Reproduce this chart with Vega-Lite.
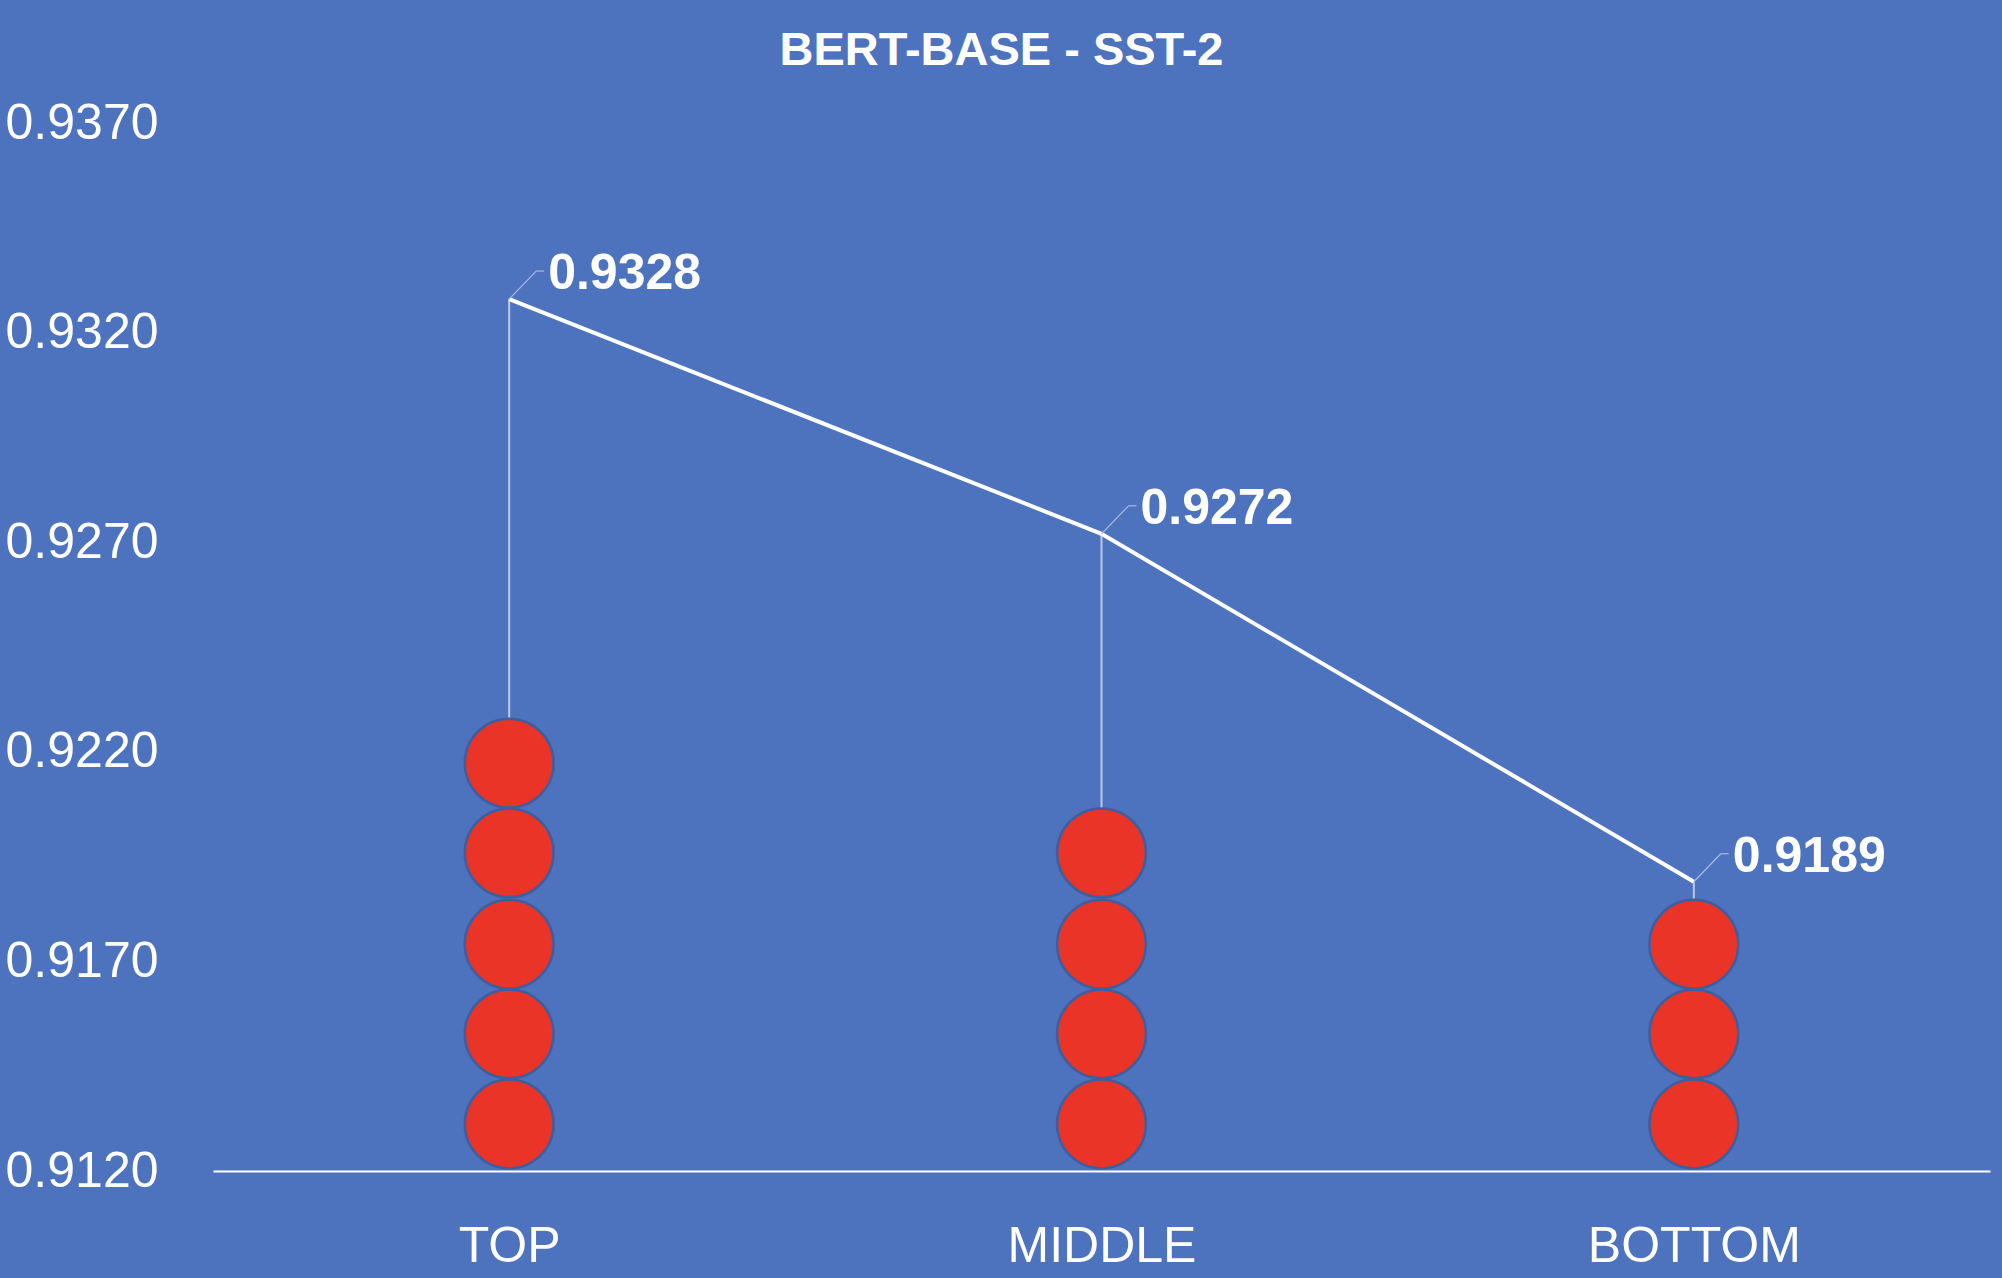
{
  "$schema": "https://vega.github.io/schema/vega-lite/v6.json",
  "width": 1777,
  "height": 1048,
  "autosize": {"type": "none"},
  "padding": {"left": 213, "top": 123, "right": 12, "bottom": 107},
  "background": "#4E73BE",
  "config": {
    "view": {"stroke": null},
    "font": "Liberation Sans"
  },
  "title": {
    "text": "BERT-BASE - SST-2",
    "color": "white",
    "fontSize": 47,
    "fontWeight": "bold",
    "font": "Liberation Sans",
    "anchor": "middle",
    "baseline": "alphabetic",
    "offset": -14,
    "dx": -100
  },
  "datasets": {
    "pts": [
      {"cat": "TOP", "value": 0.9328, "stackTop": 0.92278},
      {"cat": "MIDDLE", "value": 0.9272, "stackTop": 0.92064},
      {"cat": "BOTTOM", "value": 0.9189, "stackTop": 0.91849}
    ],
    "dots": [
      {"cat": "TOP", "y": 0.91312},
      {"cat": "TOP", "y": 0.91527},
      {"cat": "TOP", "y": 0.91741},
      {"cat": "TOP", "y": 0.91959},
      {"cat": "TOP", "y": 0.92173},
      {"cat": "MIDDLE", "y": 0.91312},
      {"cat": "MIDDLE", "y": 0.91527},
      {"cat": "MIDDLE", "y": 0.91741},
      {"cat": "MIDDLE", "y": 0.91959},
      {"cat": "BOTTOM", "y": 0.91312},
      {"cat": "BOTTOM", "y": 0.91527},
      {"cat": "BOTTOM", "y": 0.91741}
    ]
  },
  "encoding": {
    "x": {
      "field": "cat",
      "type": "nominal",
      "sort": ["TOP", "MIDDLE", "BOTTOM"],
      "scale": {"type": "point", "padding": 0.5},
      "axis": {
        "title": null,
        "labelAngle": 0,
        "labelColor": "white",
        "labelFontSize": 50,
        "labelFont": "Liberation Sans",
        "labelPadding": 50,
        "labelLimit": 0,
        "ticks": false,
        "domainColor": "white",
        "domainWidth": 2,
        "grid": false
      }
    }
  },
  "layer": [
    {
      "data": {"name": "pts"},
      "mark": {"type": "rule", "color": "#BCC7E6", "strokeWidth": 2},
      "encoding": {
        "y": {
          "field": "value",
          "type": "quantitative",
          "scale": {"domain": [0.912, 0.937], "nice": false, "zero": false},
          "axis": {
            "title": null,
            "values": [0.912, 0.917, 0.922, 0.927, 0.932, 0.937],
            "format": ".4f",
            "labelColor": "white",
            "labelFontSize": 50,
            "labelFont": "Liberation Sans",
            "labelPadding": 55,
            "labelLimit": 0,
            "ticks": false,
            "domain": false,
            "grid": false
          }
        },
        "y2": {"field": "stackTop"}
      }
    },
    {
      "data": {"name": "dots"},
      "mark": {"type": "point", "shape": "circle", "filled": true, "fill": "#E93427", "stroke": "#3E5E9E", "strokeWidth": 2.5, "opacity": 1, "size": 7900},
      "encoding": {
        "y": {"field": "y", "type": "quantitative"}
      }
    },
    {
      "data": {"name": "pts"},
      "mark": {"type": "line", "color": "white", "strokeWidth": 4},
      "encoding": {
        "y": {"field": "value", "type": "quantitative"}
      }
    },
    {
      "data": {"name": "pts"},
      "mark": {"type": "rule", "color": "#A9B9E0", "strokeWidth": 1.2, "x2Offset": 27, "y2Offset": -28},
      "encoding": {
        "y": {"field": "value", "type": "quantitative"},
        "x2": {"field": "cat"},
        "y2": {"field": "value"}
      }
    },
    {
      "data": {"name": "pts"},
      "mark": {"type": "rule", "color": "#A9B9E0", "strokeWidth": 1.2, "xOffset": 27, "x2Offset": 35, "yOffset": -28, "y2Offset": -28},
      "encoding": {
        "y": {"field": "value", "type": "quantitative"},
        "x2": {"field": "cat"},
        "y2": {"field": "value"}
      }
    },
    {
      "data": {"name": "pts"},
      "mark": {"type": "text", "color": "white", "fontSize": 50, "fontWeight": "bold", "font": "Liberation Sans", "align": "left", "baseline": "middle", "dx": 39, "dy": -25},
      "encoding": {
        "y": {"field": "value", "type": "quantitative"},
        "text": {"field": "value", "type": "quantitative", "format": ".4f"}
      }
    }
  ]
}
